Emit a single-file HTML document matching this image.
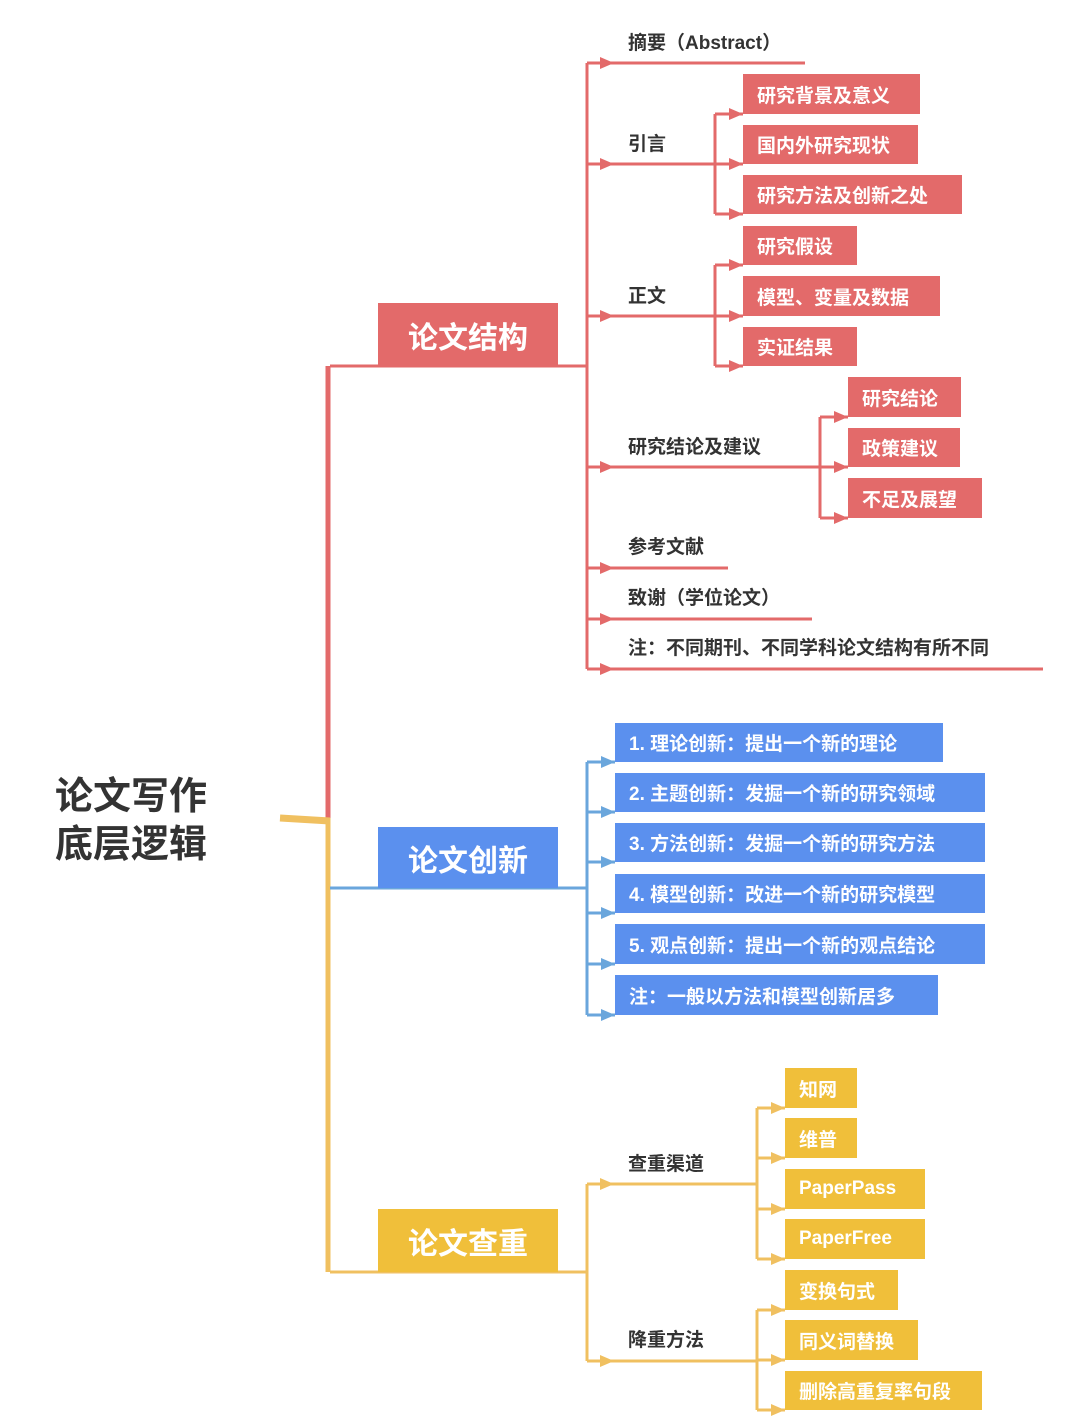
<!DOCTYPE html>
<html><head><meta charset="utf-8"><style>
body{margin:0;width:1080px;height:1427px;background:#fff;position:relative;overflow:hidden;font-family:"Liberation Sans","Noto Sans CJK SC",sans-serif}
.t{position:absolute;font-weight:bold;color:#333;font-size:19px;line-height:22px;white-space:nowrap}
.b{position:absolute;color:#fff;font-weight:bold;font-size:19px;box-sizing:border-box;padding-left:14px;display:flex;align-items:center;white-space:nowrap}
.r{background:#e36a6a}.bl{background:#5b90ee}.y{background:#f0bf3a}
.m{font-size:30px;justify-content:center;padding-left:0}
</style></head><body>
<svg width="1080" height="1427" style="position:absolute;left:0;top:0">
<g fill="none" stroke-width="3">
<path d="M328 366V818" stroke="#e36a6a" stroke-width="5"/>
<path d="M328 818V1272" stroke="#f0c060" stroke-width="5"/>
<path d="M280 818L330 821" stroke="#f0c060" stroke-width="7"/>
<path d="M330 366H587M587 63V669M587 63H805M587 164H715M715 114V214M587 316H715M715 265V366M587 467H820M820 417V518M587 568H728M587 619H812M587 669H1043" stroke="#e36a6a"/>
<path d="M715 114H743M715 164H743M715 214H743M715 265H743M715 316H743M715 366H743M820 417H848M820 467H848M820 518H848" stroke="#e36a6a"/>
<path d="M330 888H587M587 762V1015M587 762H615M587 812H615M587 862H615M587 913H615M587 964H615M587 1015H615" stroke="#6aa6dc"/>
<path d="M330 1272H587M587 1184V1361M587 1184H757M757 1108V1259M587 1361H757M757 1310V1410" stroke="#f0c060"/>
<path d="M757 1108H785M757 1158H785M757 1209H785M757 1259H785M757 1310H785M757 1360H785M757 1410H785" stroke="#f0c060"/>
</g>
<g fill="#e36a6a">
<path d="M600 57l14 6-14 6zM600 158l14 6-14 6zM600 310l14 6-14 6zM600 461l14 6-14 6zM600 562l14 6-14 6zM600 613l14 6-14 6zM600 663l14 6-14 6z"/>
<path d="M729 108l14 6-14 6zM729 158l14 6-14 6zM729 208l14 6-14 6zM729 259l14 6-14 6zM729 310l14 6-14 6zM729 360l14 6-14 6zM834 411l14 6-14 6zM834 461l14 6-14 6zM834 512l14 6-14 6z"/>
</g>
<g fill="#6aa6dc">
<path d="M601 756l14 6-14 6zM601 806l14 6-14 6zM601 856l14 6-14 6zM601 907l14 6-14 6zM601 958l14 6-14 6zM601 1009l14 6-14 6z"/>
</g>
<g fill="#f0c060">
<path d="M600 1178l14 6-14 6zM600 1355l14 6-14 6zM771 1102l14 6-14 6zM771 1152l14 6-14 6zM771 1203l14 6-14 6zM771 1253l14 6-14 6zM771 1304l14 6-14 6zM771 1354l14 6-14 6zM771 1404l14 6-14 6z"/>
</g>
</svg>
<div class="t" style="left:55px;top:773px;font-size:38px;line-height:48px;color:#333">论文写作<br>底层逻辑</div>
<div class="b r m" style="left:378px;top:303px;width:180px;height:63px">论文结构</div>
<div class="b bl m" style="left:378px;top:827px;width:180px;height:61px">论文创新</div>
<div class="b y m" style="left:378px;top:1209px;width:180px;height:63px">论文查重</div>
<div class="t" style="left:628px;top:33px">摘要（Abstract）</div>
<div class="t" style="left:628px;top:134px">引言</div>
<div class="t" style="left:628px;top:286px">正文</div>
<div class="t" style="left:628px;top:437px">研究结论及建议</div>
<div class="t" style="left:628px;top:537px">参考文献</div>
<div class="t" style="left:628px;top:588px">致谢（学位论文）</div>
<div class="t" style="left:628px;top:638px">注：不同期刊、不同学科论文结构有所不同</div>
<div class="b r" style="left:743px;top:74px;width:177px;height:40px">研究背景及意义</div>
<div class="b r" style="left:743px;top:125px;width:175px;height:39px">国内外研究现状</div>
<div class="b r" style="left:743px;top:175px;width:219px;height:39px">研究方法及创新之处</div>
<div class="b r" style="left:743px;top:226px;width:114px;height:39px">研究假设</div>
<div class="b r" style="left:743px;top:276px;width:197px;height:40px">模型、变量及数据</div>
<div class="b r" style="left:743px;top:327px;width:114px;height:39px">实证结果</div>
<div class="b r" style="left:848px;top:377px;width:113px;height:40px">研究结论</div>
<div class="b r" style="left:848px;top:428px;width:112px;height:39px">政策建议</div>
<div class="b r" style="left:848px;top:478px;width:134px;height:40px">不足及展望</div>
<div class="b bl" style="left:615px;top:723px;width:328px;height:39px">1. 理论创新：提出一个新的理论</div>
<div class="b bl" style="left:615px;top:773px;width:370px;height:39px">2. 主题创新：发掘一个新的研究领域</div>
<div class="b bl" style="left:615px;top:823px;width:370px;height:39px">3. 方法创新：发掘一个新的研究方法</div>
<div class="b bl" style="left:615px;top:874px;width:370px;height:39px">4. 模型创新：改进一个新的研究模型</div>
<div class="b bl" style="left:615px;top:924px;width:370px;height:40px">5. 观点创新：提出一个新的观点结论</div>
<div class="b bl" style="left:615px;top:975px;width:323px;height:40px">注：一般以方法和模型创新居多</div>
<div class="t" style="left:628px;top:1154px">查重渠道</div>
<div class="t" style="left:628px;top:1330px">降重方法</div>
<div class="b y" style="left:785px;top:1068px;width:72px;height:40px">知网</div>
<div class="b y" style="left:785px;top:1118px;width:72px;height:40px">维普</div>
<div class="b y" style="left:785px;top:1169px;width:140px;height:40px">PaperPass</div>
<div class="b y" style="left:785px;top:1219px;width:140px;height:40px">PaperFree</div>
<div class="b y" style="left:785px;top:1270px;width:113px;height:40px">变换句式</div>
<div class="b y" style="left:785px;top:1320px;width:133px;height:40px">同义词替换</div>
<div class="b y" style="left:785px;top:1371px;width:197px;height:39px">删除高重复率句段</div>
</body></html>
